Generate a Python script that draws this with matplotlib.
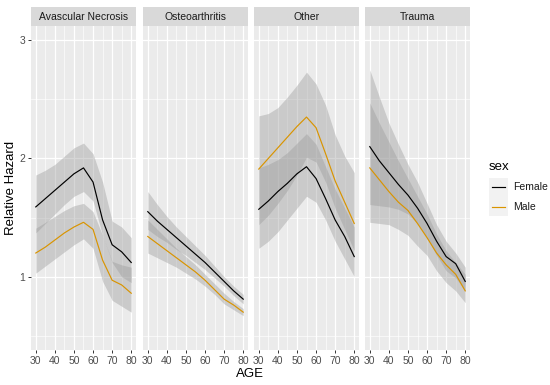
import numpy as np
import matplotlib
matplotlib.use("Agg")
import matplotlib.pyplot as plt
from matplotlib.lines import Line2D
from matplotlib.patches import Rectangle

plt.rcParams['font.family'] = ['Liberation Sans', 'DejaVu Sans']

ages = np.array([30, 35, 40, 45, 50, 55, 60, 65, 70, 75, 80])
panels = ['Avascular Necrosis', 'Osteoarthritis', 'Other', 'Trauma']
sexes = ['Female', 'Male']

# hazard curves, one row per panel
female_fit = [
    [1.59, 1.66, 1.73, 1.80, 1.87, 1.92, 1.80, 1.48, 1.27, 1.21, 1.12],
    [1.55, 1.47, 1.40, 1.33, 1.26, 1.19, 1.12, 1.04, 0.96, 0.88, 0.81],
    [1.57, 1.64, 1.72, 1.79, 1.87, 1.93, 1.83, 1.66, 1.48, 1.34, 1.17],
    [2.10, 1.98, 1.88, 1.78, 1.69, 1.58, 1.45, 1.30, 1.17, 1.11, 0.96],
]
female_hi = [
    [1.86, 1.90, 1.95, 2.02, 2.09, 2.13, 2.04, 1.80, 1.47, 1.42, 1.33],
    [1.72, 1.61, 1.51, 1.42, 1.34, 1.26, 1.18, 1.09, 1.00, 0.92, 0.85],
    [1.92, 1.95, 1.99, 2.05, 2.13, 2.21, 2.12, 1.93, 1.74, 1.58, 1.42],
    [2.75, 2.52, 2.30, 2.12, 1.95, 1.80, 1.62, 1.44, 1.30, 1.20, 1.08],
]
female_lo = [
    [1.37, 1.45, 1.53, 1.61, 1.68, 1.72, 1.64, 1.35, 1.12, 1.00, 0.95],
    [1.40, 1.34, 1.29, 1.23, 1.18, 1.12, 1.06, 0.99, 0.92, 0.84, 0.77],
    [1.24, 1.30, 1.38, 1.48, 1.58, 1.68, 1.63, 1.48, 1.30, 1.15, 1.00],
    [1.61, 1.60, 1.59, 1.57, 1.53, 1.45, 1.33, 1.18, 1.05, 0.99, 0.88],
]
male_fit = [
    [1.20, 1.25, 1.31, 1.37, 1.42, 1.46, 1.40, 1.14, 0.97, 0.93, 0.86],
    [1.34, 1.28, 1.22, 1.16, 1.10, 1.04, 0.97, 0.89, 0.81, 0.76, 0.70],
    [1.91, 2.00, 2.09, 2.18, 2.27, 2.35, 2.26, 2.04, 1.81, 1.63, 1.45],
    [1.92, 1.82, 1.72, 1.63, 1.56, 1.45, 1.33, 1.20, 1.10, 1.02, 0.88],
]
male_hi = [
    [1.41, 1.46, 1.51, 1.56, 1.60, 1.62, 1.55, 1.35, 1.13, 1.10, 1.08],
    [1.48, 1.40, 1.32, 1.24, 1.17, 1.10, 1.02, 0.94, 0.86, 0.79, 0.73],
    [2.36, 2.38, 2.43, 2.52, 2.62, 2.73, 2.63, 2.45, 2.20, 2.02, 1.88],
    [2.47, 2.30, 2.14, 1.98, 1.83, 1.68, 1.53, 1.36, 1.22, 1.12, 1.02],
]
male_lo = [
    [1.03, 1.09, 1.15, 1.21, 1.27, 1.32, 1.24, 0.96, 0.80, 0.75, 0.70],
    [1.20, 1.16, 1.12, 1.08, 1.03, 0.98, 0.92, 0.85, 0.77, 0.72, 0.67],
    [1.44, 1.52, 1.62, 1.73, 1.86, 2.01, 1.97, 1.80, 1.58, 1.40, 1.22],
    [1.46, 1.45, 1.44, 1.40, 1.35, 1.26, 1.18, 1.05, 0.95, 0.88, 0.78],
]

line_colors = {'Female': 'black', 'Male': '#D99400'}
band = '#999999'
tick_col = '#4D4D4D'

W, H = 550, 385
fig = plt.figure(figsize=(W / 100, H / 100), dpi=100)

lefts = [31, 143, 254, 365]
pw = 105
top, bot = 26, 350

for i, name in enumerate(panels):
    ax = fig.add_axes([lefts[i] / W, 1 - bot / H, pw / W, (bot - top) / H])
    ax.set_facecolor('#EBEBEB')
    for s in ax.spines.values():
        s.set_visible(False)
    ax.fill_between(ages, female_lo[i], female_hi[i], color=band, alpha=0.4, lw=0)
    ax.fill_between(ages, male_lo[i], male_hi[i], color=band, alpha=0.4, lw=0)
    ax.plot(ages, female_fit[i], color=line_colors['Female'], lw=0.85)
    ax.plot(ages, male_fit[i], color=line_colors['Male'], lw=0.85)

    ax.set_xlim(27.5, 82.5)
    ax.set_ylim(0.38, 3.12)
    ax.set_xticks([30, 40, 50, 60, 70, 80])
    ax.set_xticks([35, 45, 55, 65, 75], minor=True)
    ax.set_yticks([1, 2, 3])
    ax.set_yticks([0.5, 1.5, 2.5], minor=True)
    ax.grid(which='major', color='white', lw=0.9)
    ax.grid(which='minor', color='white', lw=0.45)
    ax.set_axisbelow(True)
    ax.tick_params(which='major', length=2.5, color='#333333', width=0.7,
                   labelsize=7.5, labelcolor=tick_col, pad=1.5)
    ax.tick_params(which='minor', length=0)
    if i > 0:
        ax.tick_params(axis='y', which='both', left=False, labelleft=False)

    # facet strip
    sax = fig.add_axes([lefts[i] / W, 1 - top / H, pw / W, 19 / H])
    sax.set_facecolor('#D9D9D9')
    sax.set_xticks([])
    sax.set_yticks([])
    for s in sax.spines.values():
        s.set_visible(False)
    sax.text(0.5, 0.5, name, ha='center', va='center', fontsize=7.5,
             color='#1A1A1A', transform=sax.transAxes)

fig.text(250 / W, 1 - 374 / H, 'AGE', ha='center', va='center', fontsize=9.5)
fig.text(11 / W, 1 - 188 / H, 'Relative Hazard', ha='center', va='center',
         rotation=90, fontsize=9.5)

# legend
fig.text(489 / W, 1 - 167 / H, 'sex', ha='left', va='center', fontsize=9.5)
for k, sx in enumerate(sexes):
    yc = 187 + k * 19.5
    fig.patches.append(Rectangle(((489) / W, 1 - (yc + 9.5) / H), 19 / W, 19 / H,
                                 transform=fig.transFigure, facecolor='#F2F2F2',
                                 edgecolor='none'))
    fig.lines.append(Line2D([492 / W, 505 / W], [1 - yc / H, 1 - yc / H],
                            transform=fig.transFigure, color=line_colors[sx], lw=0.85))
    fig.text(513 / W, 1 - yc / H, sx, ha='left', va='center', fontsize=7.5,
             color='#1A1A1A')

fig.savefig('out.png', dpi=100)
